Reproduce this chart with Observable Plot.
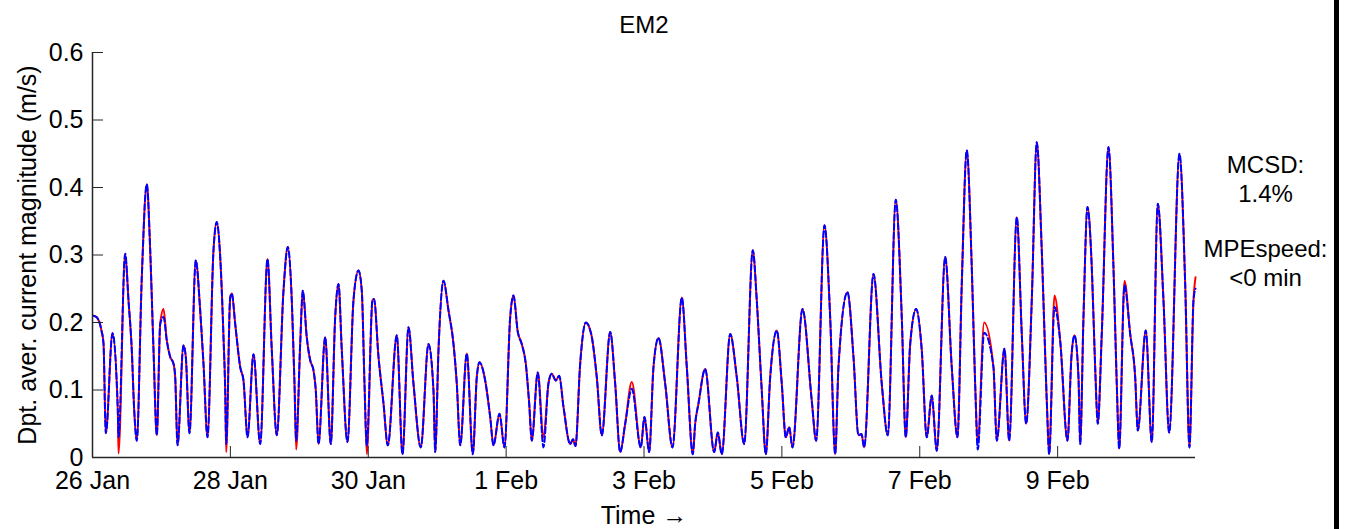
<!DOCTYPE html>
<html>
<head>
<meta charset="utf-8">
<script src="https://cdn.jsdelivr.net/npm/d3@7"></script>
<script src="https://cdn.jsdelivr.net/npm/@observablehq/plot@0.6"></script>
<style>
html, body { margin: 0; padding: 0; background: #fff; }
#wrap { position: relative; width: 1346px; height: 529px; overflow: hidden; font-family: "Liberation Sans", Arial, sans-serif; }
#edge { position: absolute; left: 1334px; top: 0; width: 5px; height: 529px; background: #000; }
#wrap svg { position: absolute; left: 0; top: 0; }
</style>
</head>
<body>
<div id="wrap"><div id="edge"></div></div>
<script>
// ---- data ----
const startTime = "2000-01-26T00:00:00Z";
const endTime = "2000-02-11T00:00:00Z";

const hoursSinceStart = [
  0.35, 1.39, 3.13, 3.83, 4.63, 6.96, 8.81, 9.05, 11.38, 12.53,
  13.68, 14.52, 15.42, 17.16, 18.90, 20.09, 21.24, 22.39, 23.57, 24.72,
  25.87, 27.05, 28.20, 28.79, 29.59, 31.68, 32.48, 33.77, 35.96, 37.49,
  38.64, 40.03, 42.12, 43.27, 44.46, 45.61, 46.20, 46.55, 47.94, 48.50,
  49.68, 51.42, 52.57, 53.96, 56.05, 58.38, 60.92, 62.42, 64.16, 66.49,
  67.99, 69.38, 70.32, 70.91, 72.31, 73.21, 74.60, 75.79, 76.94, 77.74,
  78.68, 81.01, 82.96, 84.49, 85.64, 86.79, 88.77, 90.86, 92.60, 93.75,
  94.69, 95.49, 97.48, 98.00, 99.57, 101.31, 102.81, 105.94, 107.92, 110.01,
  111.75, 114.29, 116.97, 118.71, 119.31, 120.45, 122.19, 123.93, 125.68, 126.83,
  128.01, 130.31, 132.40, 133.79, 134.73, 136.71, 138.45, 139.60, 141.69, 143.43,
  145.42, 146.56, 148.06, 149.45, 150.84, 152.03, 152.93, 155.02, 157.01, 158.75,
  159.90, 161.29, 162.47, 163.97, 166.30, 167.28, 168.15, 169.78, 171.73, 173.61,
  175.56, 177.31, 180.23, 181.97, 183.71, 185.45, 187.75, 190.88, 192.17, 193.81,
  195.30, 197.04, 199.38, 201.92, 205.16, 206.90, 208.99, 209.82, 210.97, 213.30,
  216.43, 217.69, 219.08, 222.00, 224.30, 226.88, 229.87, 231.26, 233.00, 234.40,
  235.93, 238.23, 239.97, 241.36, 242.54, 243.69, 247.17, 250.41, 251.94, 254.83,
  256.81, 258.56, 259.70, 262.84, 264.93, 266.67, 267.71, 268.65, 271.89, 274.78,
  276.87, 279.65, 281.74, 283.13, 284.67, 286.75, 288.70, 290.44, 292.18, 293.92,
  296.85, 299.14, 301.13, 302.63, 304.37, 306.11, 307.29, 308.20, 310.42, 313.66,
  314.81, 317.50, 319.13, 321.78, 323.52, 325.05, 327.00, 328.74, 330.48, 332.22,
  333.06, 334.90, 336.89, 339.43, 340.82, 341.87, 343.26, 343.85, 345.00, 346.39,
  347.89, 349.07, 349.98, 351.37, 353.70, 355.44, 356.59, 357.43, 359.27, 361.26,
  363.00, 363.90, 366.69, 368.78, 370.87, 372.85, 374.84, 378.42, 380.41, 381.90,
  383.30, 384.00
];

// red solid series (m/s)
const redSeries = [
  0.210, 0.208, 0.188, 0.169, 0.036, 0.184, 0.070, 0.006, 0.302, 0.233,
  0.159, 0.070, 0.025, 0.267, 0.405, 0.307, 0.159, 0.033, 0.198, 0.220,
  0.173, 0.149, 0.139, 0.119, 0.018, 0.166, 0.149, 0.036, 0.292, 0.218,
  0.139, 0.030, 0.307, 0.349, 0.297, 0.178, 0.099, 0.008, 0.237, 0.243,
  0.198, 0.134, 0.114, 0.030, 0.153, 0.020, 0.294, 0.159, 0.033, 0.247,
  0.312, 0.233, 0.110, 0.012, 0.169, 0.247, 0.178, 0.144, 0.129, 0.099,
  0.020, 0.178, 0.020, 0.208, 0.257, 0.159, 0.023, 0.233, 0.277, 0.247,
  0.110, 0.005, 0.233, 0.235, 0.149, 0.080, 0.018, 0.181, 0.005, 0.193,
  0.109, 0.015, 0.168, 0.099, 0.008, 0.159, 0.262, 0.218, 0.168, 0.109,
  0.018, 0.154, 0.005, 0.119, 0.141, 0.114, 0.060, 0.018, 0.065, 0.015,
  0.208, 0.240, 0.186, 0.168, 0.139, 0.080, 0.025, 0.126, 0.030, 0.110,
  0.124, 0.114, 0.121, 0.075, 0.020, 0.027, 0.017, 0.139, 0.200, 0.183,
  0.119, 0.033, 0.186, 0.109, 0.008, 0.050, 0.112, 0.015, 0.060, 0.008,
  0.134, 0.177, 0.109, 0.015, 0.237, 0.134, 0.005, 0.050, 0.080, 0.131,
  0.008, 0.037, 0.005, 0.183, 0.119, 0.020, 0.307, 0.233, 0.099, 0.005,
  0.119, 0.188, 0.109, 0.030, 0.045, 0.015, 0.220, 0.084, 0.025, 0.344,
  0.208, 0.005, 0.134, 0.245, 0.149, 0.033, 0.035, 0.015, 0.272, 0.109,
  0.033, 0.382, 0.208, 0.030, 0.168, 0.220, 0.159, 0.030, 0.092, 0.010,
  0.297, 0.134, 0.030, 0.257, 0.455, 0.282, 0.109, 0.025, 0.200, 0.134,
  0.025, 0.161, 0.025, 0.356, 0.183, 0.050, 0.233, 0.467, 0.307, 0.084,
  0.005, 0.240, 0.173, 0.025, 0.150, 0.181, 0.119, 0.020, 0.208, 0.371,
  0.282, 0.134, 0.050, 0.183, 0.460, 0.282, 0.109, 0.013, 0.262, 0.183,
  0.119, 0.040, 0.188, 0.023, 0.376, 0.233, 0.037, 0.450, 0.257, 0.015,
  0.233, 0.267
];

// blue dashed series (m/s)
const blueSeries = [
  0.210, 0.208, 0.188, 0.169, 0.036, 0.184, 0.070, 0.030, 0.302, 0.233,
  0.159, 0.070, 0.025, 0.267, 0.405, 0.307, 0.159, 0.033, 0.198, 0.208,
  0.173, 0.149, 0.139, 0.119, 0.018, 0.166, 0.149, 0.036, 0.292, 0.218,
  0.139, 0.030, 0.307, 0.349, 0.297, 0.178, 0.099, 0.020, 0.237, 0.243,
  0.198, 0.134, 0.114, 0.030, 0.153, 0.020, 0.294, 0.159, 0.033, 0.247,
  0.312, 0.233, 0.110, 0.025, 0.169, 0.247, 0.178, 0.144, 0.129, 0.099,
  0.020, 0.178, 0.020, 0.208, 0.257, 0.159, 0.023, 0.233, 0.277, 0.247,
  0.110, 0.018, 0.233, 0.235, 0.149, 0.080, 0.018, 0.181, 0.005, 0.193,
  0.109, 0.015, 0.168, 0.099, 0.008, 0.159, 0.262, 0.218, 0.168, 0.109,
  0.018, 0.154, 0.005, 0.119, 0.141, 0.114, 0.060, 0.018, 0.065, 0.015,
  0.208, 0.240, 0.186, 0.168, 0.139, 0.080, 0.025, 0.126, 0.015, 0.110,
  0.124, 0.114, 0.121, 0.075, 0.020, 0.027, 0.017, 0.139, 0.200, 0.183,
  0.119, 0.033, 0.186, 0.109, 0.008, 0.050, 0.102, 0.015, 0.060, 0.008,
  0.134, 0.177, 0.109, 0.015, 0.237, 0.134, 0.005, 0.050, 0.080, 0.131,
  0.008, 0.037, 0.005, 0.183, 0.119, 0.020, 0.307, 0.233, 0.099, 0.005,
  0.119, 0.188, 0.109, 0.030, 0.045, 0.015, 0.220, 0.084, 0.025, 0.344,
  0.208, 0.005, 0.134, 0.245, 0.149, 0.033, 0.035, 0.015, 0.272, 0.109,
  0.033, 0.382, 0.208, 0.030, 0.168, 0.220, 0.159, 0.030, 0.092, 0.010,
  0.297, 0.134, 0.030, 0.257, 0.455, 0.282, 0.109, 0.012, 0.185, 0.134,
  0.025, 0.161, 0.025, 0.356, 0.183, 0.050, 0.233, 0.467, 0.307, 0.084,
  0.005, 0.223, 0.173, 0.025, 0.150, 0.181, 0.119, 0.020, 0.208, 0.371,
  0.282, 0.134, 0.050, 0.183, 0.460, 0.282, 0.109, 0.013, 0.255, 0.183,
  0.119, 0.040, 0.188, 0.023, 0.376, 0.233, 0.037, 0.450, 0.257, 0.015,
  0.233, 0.250
];

const xTickDates = ["2000-01-26", "2000-01-28", "2000-01-30", "2000-02-01",
                    "2000-02-03", "2000-02-05", "2000-02-07", "2000-02-09"];
const yTickValues = [0, 0.1, 0.2, 0.3, 0.4, 0.5, 0.6];

const titleText = "EM2";
const yLabelText = "Dpt. aver. current magnitude (m/s)";
const xLabelText = "Time \u2192";
const statsA = "MCSD:\n1.4%";
const statsB = "MPEspeed:\n<0 min";

// ---- build ----
const t0 = new Date(startTime);
const t1 = new Date(endTime);
const rows = hoursSinceStart.map((h, i) => ({
  t: new Date(t0.getTime() + h * 3600e3),
  red: redSeries[i],
  blue: blueSeries[i]
}));
const tickDates = xTickDates.map(s => new Date(s + "T00:00:00Z"));
const axisColor = "#262626";
const font = '"Liberation Sans", Arial, sans-serif';

const chart = Plot.plot({
  width: 1346,
  height: 529,
  marginLeft: 92,
  marginRight: 151,
  marginTop: 52,
  marginBottom: 72,
  style: { fontFamily: font, fontSize: "25px", color: "#000", background: "transparent", overflow: "visible" },
  x: { type: "utc", domain: [t0, t1] },
  y: { domain: [0, 0.6] },
  marks: [
    Plot.line(rows, { x: "t", y: "red", stroke: "#ff0000", strokeWidth: 2, curve: "monotone-x" }),
    Plot.line(rows, { x: "t", y: "blue", stroke: "#0000ff", strokeWidth: 2, strokeDasharray: "6,3", curve: "monotone-x" }),
    Plot.ruleY([0], { stroke: axisColor, strokeWidth: 1.5 }),
    Plot.ruleX([t0], { stroke: axisColor, strokeWidth: 1.5 }),
    Plot.axisX({ ticks: tickDates, tickFormat: d3.utcFormat("%-d %b"), tickSize: -11, tickPadding: 25, label: null, stroke: axisColor, fill: "#000" }),
    Plot.axisY({ ticks: yTickValues, tickFormat: d => String(d), tickSize: -11, tickPadding: 20, label: null, stroke: axisColor, fill: "#000" }),
    Plot.text([titleText], { text: d => d, frameAnchor: "top", textAnchor: "middle", lineAnchor: "middle", dy: -27, fontSize: 24, fill: "#000" }),
    Plot.text([yLabelText], { text: d => d, frameAnchor: "left", textAnchor: "middle", lineAnchor: "middle", rotate: -90, dx: -65, fontSize: 25, fill: "#000" }),
    Plot.text([xLabelText], { text: d => d, frameAnchor: "bottom", textAnchor: "middle", lineAnchor: "middle", dy: 58, fontSize: 25, fill: "#000" }),
    Plot.text([statsA], { text: d => d, frameAnchor: "top-right", textAnchor: "middle", lineAnchor: "middle", dx: 70, dy: 125.5, fontSize: 24, lineHeight: 1.21, fill: "#000" }),
    Plot.text([statsB], { text: d => d, frameAnchor: "top-right", textAnchor: "middle", lineAnchor: "middle", dx: 70, dy: 209.5, fontSize: 24, lineHeight: 1.21, fill: "#000" })
  ]
});
document.getElementById("wrap").appendChild(chart);
</script>
</body>
</html>
